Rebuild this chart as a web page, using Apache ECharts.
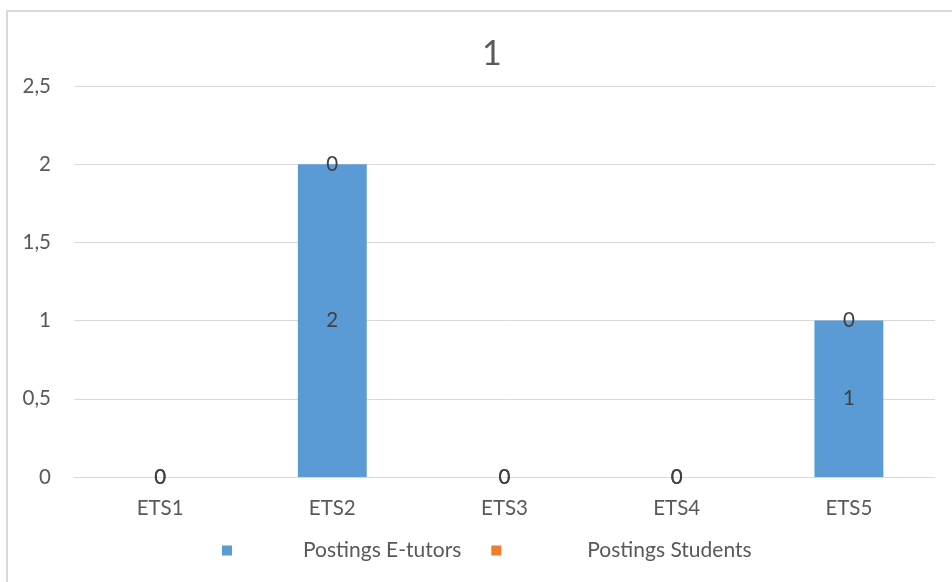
<!DOCTYPE html>
<html>
<head>
<meta charset="utf-8">
<script src="https://cdn.jsdelivr.net/npm/echarts@6/dist/echarts.min.js"></script>
<style>
  html, body { margin: 0; padding: 0; background: #ffffff; }
  #chart { width: 952px; height: 582px; }
</style>
</head>
<body>
<div id="chart"></div>
<script>
// Categories and values
const categories = ['ETS1', 'ETS2', 'ETS3', 'ETS4', 'ETS5'];
const tutorPostings = [0, 2, 0, 0, 1];
const studentPostings = [0, 0, 0, 0, 0];
const seriesNames = ['Postings E-tutors', 'Postings Students'];
const chartTitle = '1';

const FONT = 'Lato, "Noto Sans", sans-serif';
const TEXT = '#595959';
const LABEL = '#404040';
const GRID_LINE = '#D9D9D9';
const FS = 20.5;

const chart = echarts.init(document.getElementById('chart'), null, { renderer: 'canvas' });

chart.setOption({
  animation: false,
  backgroundColor: '#ffffff',
  title: {
    text: chartTitle,
    left: 477,
    top: 32,
    textStyle: { fontFamily: FONT, fontSize: 34, fontWeight: 'normal', color: TEXT }
  },
  graphic: [{
    type: 'rect',
    silent: true,
    shape: { x: 7, y: 11, width: 1200, height: 1000 },
    style: { fill: 'none', stroke: GRID_LINE, lineWidth: 2 }
  }],
  grid: { left: 74, right: 17, top: 86, bottom: 105, containLabel: false },
  legend: {
    left: 217,
    top: 535,
    icon: 'rect',
    itemWidth: 10,
    itemHeight: 10,
    itemGap: 30,
    data: [
      { name: seriesNames[0], textStyle: { padding: [0, 0, 0, 66] } },
      { name: seriesNames[1], textStyle: { padding: [0, 0, 0, 81] } }
    ],
    textStyle: { fontFamily: FONT, fontSize: 21, color: TEXT }
  },
  xAxis: {
    type: 'category',
    data: categories,
    axisLine: { lineStyle: { color: GRID_LINE, width: 1 } },
    axisTick: { show: false },
    axisLabel: { fontFamily: FONT, fontSize: FS, color: TEXT, margin: 21 }
  },
  yAxis: {
    type: 'value',
    min: 0,
    max: 2.5,
    interval: 0.5,
    axisLine: { show: false },
    axisTick: { show: false },
    splitLine: { lineStyle: { color: GRID_LINE, width: 1 } },
    axisLabel: {
      fontFamily: FONT, fontSize: FS, color: TEXT, margin: 23,
      formatter: v => String(v).replace('.', ',')
    }
  },
  series: [
    {
      name: seriesNames[0],
      type: 'bar',
      stack: 'postings',
      data: tutorPostings,
      barCategoryGap: '60%',
      itemStyle: { color: '#5B9BD5' },
      label: { show: true, position: 'inside', fontFamily: FONT, fontSize: FS, color: LABEL }
    },
    {
      name: seriesNames[1],
      type: 'bar',
      stack: 'postings',
      data: studentPostings,
      barCategoryGap: '60%',
      itemStyle: { color: '#ED7D31' },
      label: { show: true, position: 'inside', fontFamily: FONT, fontSize: FS, color: LABEL }
    }
  ]
});
</script>
</body>
</html>
